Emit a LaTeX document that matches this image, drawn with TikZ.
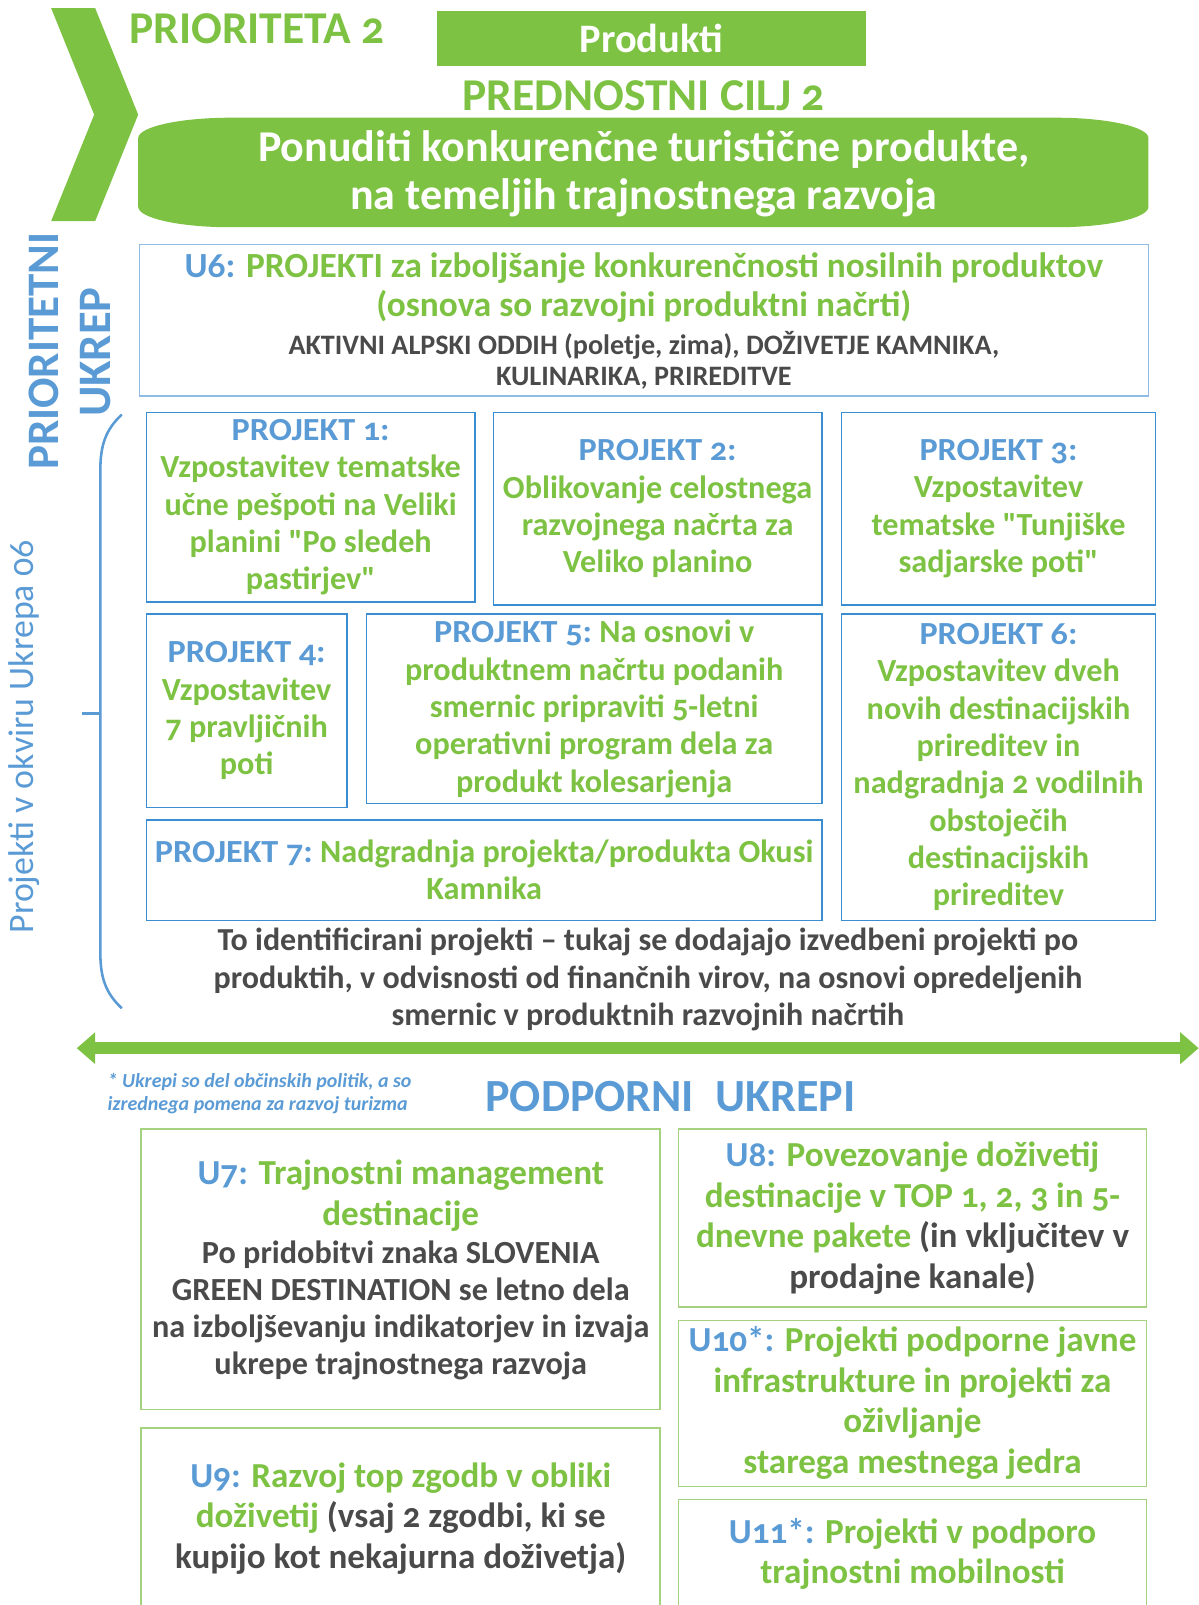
\documentclass[tikz,border=0pt]{standalone}
\usepackage{fontspec}
\setmainfont{Carlito}[Numbers=OldStyle, Ligatures=TeXOff]
\usetikzlibrary{arrows.meta}
\definecolor{gr}{HTML}{7DC242}
\definecolor{bl}{HTML}{5B9BD5}
\definecolor{bbord}{HTML}{3A8DD0}
\definecolor{lbord}{HTML}{8DBBE4}
\definecolor{gbord}{HTML}{A4D27E}
\definecolor{tx}{HTML}{4A4A4A}
\newcommand\fsz[2]{\fontsize{#1}{#2}\selectfont}
\newcommand\plab[1]{\textcolor{bl}{\scalebox{1.06}[1]{#1}}}
\begin{document}
\begin{tikzpicture}[x=1pt,y=-1pt,
  pbox/.style={draw=bbord, line width=1.3, align=center, inner sep=0pt, text=gr,
    font=\fsz{31.5}{36.5}\bfseries},
  ubox/.style={draw=lbord, line width=1.3, inner sep=0pt},
  gbox/.style={draw=gbord, line width=1.5, inner sep=0pt},
  gtxt/.style={align=center, inner sep=0pt, text=gr, font=\fsz{34.3}{39.5}\bfseries},
  ttxt/.style={align=center, inner sep=0pt, text=tx, font=\fsz{31.5}{36}\bfseries},
]
\useasboundingbox (0,0) rectangle (1171,1568);
\clip (0,0) rectangle (1171,1568);

% chevron
\fill[gr] (50,8) -- (93,8) -- (135,112) -- (93,216) -- (50,216) -- (92,112) -- cycle;

\node[anchor=west, inner sep=0pt, text=gr, font=\fsz{44.5}{48}\bfseries] (prio2) at (126,28) {PRIORITETA 2};
\node[fill=gr, minimum width=419, minimum height=53, inner sep=0pt, text=white,
      font=\fsz{39.5}{42}\bfseries] (prod) at (636.5,37.5) {Produkti};
\node[inner sep=0pt, text=gr, font=\fsz{44.5}{48}\bfseries] (cilj) at (629,94) {PREDNOSTNI CILJ 2};

% pill
\fill[gr] (135,135) arc[start angle=180,end angle=270,x radius=90,y radius=20]
  -- (1032,115) arc[start angle=270,end angle=360,x radius=90,y radius=20]
  -- (1122,202) arc[start angle=0,end angle=90,x radius=90,y radius=20]
  -- (225,222) arc[start angle=90,end angle=180,x radius=90,y radius=20] -- cycle;
\node[align=center, inner sep=0pt, text=white, font=\fsz{43}{47}\bfseries] (goal) at (629,170)
  {Ponuditi konkurenčne turistične produkte,\\na temeljih trajnostnega razvoja};

% vertical labels
\node[rotate=90, inner sep=0pt, text=bl, font=\fsz{44}{48}\bfseries] (prioukrep) at (43,343) {PRIORITETNI};
\node[rotate=90, inner sep=0pt, text=bl, font=\fsz{45.5}{48}\bfseries] (ukrep) at (93,344) {UKREP};
\node[rotate=90, inner sep=0pt, text=bl, font=\fsz{35}{38}] (pvo) at (24,720) {Projekti v okviru Ukrepa 06};

% brace
\draw[bl, line width=2.5] (119,405) .. controls (103,420) and (98,435) .. (98,460)
  -- (98,930) .. controls (98,955) and (103,970) .. (119,985);
\draw[bl, line width=2.5] (80,697) -- (98,697);

% U6
\node[ubox, minimum width=986, minimum height=148] (u6) at (629,313) {};
\node[gtxt, font=\fsz{34.5}{38}\bfseries] (u6h) at (629,281)
  {\textcolor{bl}{U6:} PROJEKTI za izboljšanje konkurenčnosti nosilnih produktov\\(osnova so razvojni produktni načrti)};
\node[ttxt, font=\fsz{27.5}{31}\bfseries] (u6s) at (629,352)
  {AKTIVNI ALPSKI ODDIH (poletje, zima), DOŽIVETJE KAMNIKA,\\KULINARIKA, PRIREDITVE};

% projects
\node[pbox, minimum width=321, minimum height=185] (p1) at (303.5,495.5)
  {\plab{PROJEKT 1:}\\Vzpostavitev tematske\\učne pešpoti na Veliki\\planini "Po sledeh\\pastirjev"};
\node[pbox, minimum width=321, minimum height=188] (p2) at (642.5,497)
  {\plab{PROJEKT 2:}\\Oblikovanje celostnega\\razvojnega načrta za\\Veliko planino};
\node[pbox, minimum width=307, minimum height=188] (p3) at (975.5,497)
  {\plab{PROJEKT 3:}\\Vzpostavitev\\tematske "Tunjiške\\sadjarske poti"};
\node[pbox, minimum width=196, minimum height=189] (p4) at (241,694.5)
  {\plab{PROJEKT 4:}\\Vzpostavitev\\7 pravljičnih\\poti};
\node[pbox, minimum width=445, minimum height=185] (p5) at (580.5,692.5)
  {\plab{PROJEKT 5:} Na osnovi v\\produktnem načrtu podanih\\smernic pripraviti 5-letni\\operativni program dela za\\produkt kolesarjenja};
\node[pbox, minimum width=307, minimum height=299] (p6) at (975.5,749.5)
  {\plab{PROJEKT 6:}\\Vzpostavitev dveh\\novih destinacijskih\\prireditev in\\nadgradnja 2 vodilnih\\obstoječih\\destinacijskih\\prireditev};
\node[pbox, minimum width=660, minimum height=98] (p7) at (473,850)
  {\plab{PROJEKT 7:} Nadgradnja projekta/produkta Okusi\\Kamnika};

\node[ttxt, font=\fsz{31.3}{36.5}\bfseries] (note) at (633,957)
  {To identificirani projekti – tukaj se dodajajo izvedbeni projekti po\\produktih, v odvisnosti od finančnih virov, na osnovi opredeljenih\\smernic v produktnih razvojnih načrtih};

% double arrow
\coordinate (al) at (75,1024);
\coordinate (ar) at (1171,1024);
\draw[gr, line width=12, {Triangle[length=18pt,width=30pt]}-{Triangle[length=18pt,width=30pt]}] (al) -- (ar);

\node[anchor=west, align=left, inner sep=0pt, text=bl, font=\fsz{19.5}{23}\bfseries\itshape] (fn) at (105,1068.5)
  {* Ukrepi so del občinskih politik, a so\\izrednega pomena za razvoj turizma};
\node[inner sep=0pt, text=bl, font=\fsz{45}{48}\bfseries] (podp) at (655,1071) {PODPORNI\ \ UKREPI};

% support boxes
\node[gbox, minimum width=507, minimum height=274] (u7) at (391.5,1240) {};
\node[gtxt] (u7h) at (391.5,1168) {\textcolor{bl}{U7:} Trajnostni management\\destinacije};
\node[ttxt] (u7b) at (391.5,1280) {Po pridobitvi znaka SLOVENIA\\GREEN DESTINATION se letno dela\\na izboljševanju indikatorjev in izvaja\\ukrepe trajnostnega razvoja};

\node[gbox, minimum width=457, minimum height=174] (u8) at (891.5,1190) {};
\node[gtxt] (u8t) at (891.5,1190) {\textcolor{bl}{U8:} Povezovanje doživetij\\destinacije v TOP 1, 2, 3 in 5-\\dnevne pakete \textcolor{tx}{(in vključitev v}\\\textcolor{tx}{prodajne kanale)}};

\node[gbox, minimum width=457, minimum height=162] (u10) at (891.5,1371) {};
\node[gtxt] (u10t) at (891.5,1370.5) {\textcolor{bl}{U10*:} Projekti podporne javne\\infrastrukture in projekti za\\oživljanje\\starega mestnega jedra};

\node[gbox, minimum width=507, minimum height=205] (u9) at (391.5,1497.5) {};
\node[gtxt] (u9t) at (391.5,1483.5) {\textcolor{bl}{U9:} Razvoj top zgodb v obliki\\doživetij \textcolor{tx}{(vsaj 2 zgodbi, ki se}\\\textcolor{tx}{kupijo kot nekajurna doživetja)}};

\node[gbox, minimum width=457, minimum height=135] (u11) at (891.5,1532.5) {};
\node[gtxt] (u11t) at (891.5,1518) {\textcolor{bl}{U11*:} Projekti v podporo\\trajnostni mobilnosti};
\end{tikzpicture}
\end{document}
